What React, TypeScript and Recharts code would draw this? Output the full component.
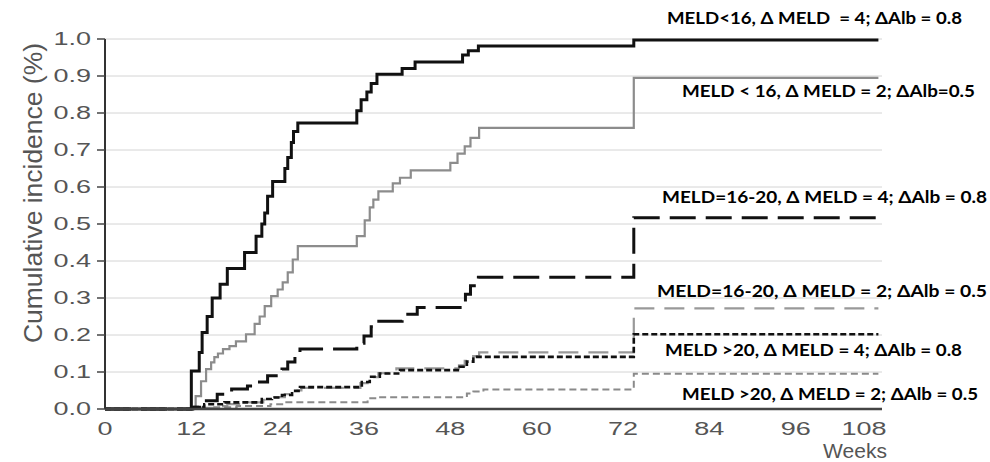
import { CartesianGrid, Line, LineChart, XAxis, YAxis } from "recharts";

type Pt = [number, number];

const weekTicks = [0, 12, 24, 36, 48, 60, 72, 84, 96, 108];
const incidenceTicks = [0, 0.1, 0.2, 0.3, 0.4, 0.5, 0.6, 0.7, 0.8, 0.9, 1.0];

// MELD<16, dMELD=4, dAlb=0.8 (black solid)
const meldLowD4: Pt[] = [
  [0, 0], [12, 0.103], [13.1, 0.153], [13.5, 0.207], [14.2, 0.25], [14.9, 0.3],
  [16, 0.337], [17, 0.38], [19.4, 0.423], [21, 0.467], [21.8, 0.5], [22.2, 0.53],
  [22.6, 0.575], [23.3, 0.615], [25, 0.65], [25.4, 0.68], [25.9, 0.72], [26.2, 0.75],
  [26.8, 0.773], [35, 0.806], [35.6, 0.836], [36.4, 0.857], [37, 0.88], [37.8, 0.905],
  [41.3, 0.92], [43.1, 0.938], [49.7, 0.957], [50.5, 0.968], [51.9, 0.981],
  [73.5, 0.997], [107.5, 0.997],
];

// MELD<16, dMELD=2, dAlb=0.5 (gray solid)
const meldLowD2: Pt[] = [
  [0, 0], [12.6, 0.035], [13.35, 0.075], [14.05, 0.108], [14.75, 0.126], [15.2, 0.14],
  [15.7, 0.15], [16.4, 0.162], [17.3, 0.17], [18.2, 0.183], [19.6, 0.202], [20.8, 0.23],
  [21.5, 0.25], [22.2, 0.278], [23.1, 0.305], [24, 0.323], [24.7, 0.342], [25.4, 0.369],
  [26.1, 0.404], [26.8, 0.44], [35, 0.467], [36.1, 0.51], [36.8, 0.545], [37.3, 0.566],
  [38, 0.588], [40, 0.61], [41, 0.625], [42.5, 0.645], [48, 0.665], [49, 0.69],
  [50, 0.71], [50.8, 0.733], [52, 0.76], [73.5, 0.895], [107.5, 0.895],
];

// MELD=16-20, dMELD=4, dAlb=0.8 (black long dash)
const meldMidD4: Pt[] = [
  [0, 0], [12.2, 0.005], [13.8, 0.022], [15.6, 0.04], [17.6, 0.054], [19.8, 0.062],
  [21.2, 0.073], [22.6, 0.09], [24.6, 0.108], [25.4, 0.127], [26.4, 0.148], [27.1, 0.162],
  [35, 0.178], [36, 0.197], [37, 0.222], [37.8, 0.237], [41.3, 0.256], [43.4, 0.274],
  [50.1, 0.31], [50.8, 0.333], [51.9, 0.356], [73.5, 0.517], [107.5, 0.517],
];

// MELD=16-20, dMELD=2, dAlb=0.5 (gray long dash)
const meldMidD2: Pt[] = [
  [0, 0], [12.5, 0.003], [15, 0.008], [17, 0.013], [20, 0.018], [22, 0.025],
  [23.5, 0.032], [25, 0.04], [26.2, 0.05], [27.3, 0.057], [35.5, 0.07], [36.5, 0.086],
  [38, 0.097], [40.5, 0.11], [49.2, 0.118], [50, 0.13], [51, 0.143], [52, 0.153],
  [73.5, 0.272], [107.5, 0.272],
];

// MELD>20, dMELD=4, dAlb=0.8 (black short dash)
const meldHighD4: Pt[] = [
  [0, 0], [12.2, 0.005], [13.8, 0.013], [16.6, 0.018], [21.8, 0.027], [23.2, 0.031],
  [24.6, 0.038], [26, 0.049], [27.1, 0.059], [35.7, 0.073], [36.8, 0.087], [38.2, 0.096],
  [41, 0.105], [49.3, 0.114], [50.3, 0.128], [51.2, 0.141], [73.5, 0.202], [107.5, 0.202],
];

// MELD>20, dMELD=2, dAlb=0.5 (gray short dash)
const meldHighD2: Pt[] = [
  [0, 0], [13, 0.002], [15, 0.005], [18.3, 0.008], [23, 0.013], [25, 0.018],
  [36.5, 0.029], [38, 0.032], [50.3, 0.042], [51.2, 0.047], [52.6, 0.053],
  [73.5, 0.095], [107.5, 0.095],
];

const labels = [
  "MELD<16, \u0394 MELD  = 4; \u0394Alb = 0.8",
  "MELD < 16, \u0394 MELD = 2; \u0394Alb=0.5",
  "MELD=16-20, \u0394 MELD = 4; \u0394Alb = 0.8",
  "MELD=16-20, \u0394 MELD = 2; \u0394Alb = 0.5",
  "MELD >20, \u0394 MELD = 4; \u0394Alb = 0.8",
  "MELD >20, \u0394 MELD = 2; \u0394Alb = 0.5",
];

const toRows = (pts: Pt[]) => pts.map(([week, value]) => ({ week, value }));

// gray ones first so the black lines sit on top
const series = [
  { key: "b", data: meldLowD2, stroke: "#8c8c8c", width: 2.2, dash: undefined },
  { key: "d", data: meldMidD2, stroke: "#999999", width: 2.2, dash: "20 10" },
  { key: "f", data: meldHighD2, stroke: "#8a8a8a", width: 2, dash: "7 4" },
  { key: "a", data: meldLowD4, stroke: "#111111", width: 3, dash: undefined },
  { key: "c", data: meldMidD4, stroke: "#111111", width: 3, dash: "26 10" },
  { key: "e", data: meldHighD4, stroke: "#111111", width: 2.6, dash: "6 3" },
];

// where each label sits (left x, baseline y, width)
const labelPos = [
  [667, 24, 295],
  [682, 97, 293],
  [662, 203, 325],
  [657, 297, 330],
  [665, 356, 297],
  [682, 400, 296],
];

const axisFont = "'Liberation Sans', Arial, sans-serif";

const XTick = (props: any) => {
  const { x, y, payload } = props;
  const shift = payload.value === 108 ? -18 : 0;
  return (
    <g transform={`translate(${x + shift},${y})`}>
      <text transform="scale(1.5,1)" textAnchor="middle" dy="0.71em" fontSize={18} fill="#555" fontFamily={axisFont}>
        {payload.value}
      </text>
    </g>
  );
};

const YTick = (props: any) => {
  const { x, y, payload } = props;
  return (
    <g transform={`translate(${x},${y})`}>
      <text transform="scale(1.5,1)" textAnchor="end" dy="0.36em" fontSize={18} fill="#555" fontFamily={axisFont}>
        {Number(payload.value).toFixed(1)}
      </text>
    </g>
  );
};

export default function App() {
  return (
    <div style={{ position: "absolute", left: 0, top: 0, width: 990, height: 462, background: "#fff" }}>
      <LineChart width={990} height={462} margin={{ top: 39, right: 108, bottom: 0, left: 0 }}>
        <CartesianGrid vertical={false} stroke="#d4d4d4" />
        <XAxis
          type="number"
          dataKey="week"
          domain={[0, 108]}
          ticks={weekTicks}
          tickLine={false}
          tickSize={0}
          tickMargin={13}
          height={53}
          axisLine={{ stroke: "#444", strokeWidth: 2.5 }}
          tick={<XTick />}
          allowDataOverflow
        />
        <YAxis
          type="number"
          domain={[0, 1]}
          ticks={incidenceTicks}
          width={105}
          tickSize={8}
          tickMargin={6}
          tickLine={{ stroke: "#444", strokeWidth: 1.5 }}
          axisLine={{ stroke: "#333", strokeWidth: 2 }}
          tick={<YTick />}
        />
        {series.map((s) => (
          <Line
            key={s.key}
            data={toRows(s.data)}
            dataKey="value"
            type="stepAfter"
            stroke={s.stroke}
            strokeWidth={s.width}
            strokeDasharray={s.dash}
            dot={false}
            activeDot={false}
            isAnimationActive={false}
          />
        ))}
      </LineChart>
      <svg width={990} height={462} style={{ position: "absolute", left: 0, top: 0, pointerEvents: "none" }}>
        <text
          transform="translate(42,193) rotate(-90)"
          textAnchor="middle"
          fontSize={26}
          fill="#555"
          fontFamily={axisFont}
          textLength={300}
          lengthAdjust="spacingAndGlyphs"
        >
          Cumulative incidence (%)
        </text>
        <text x={855} y={458} textAnchor="middle" fontSize={21} fill="#555" fontFamily={axisFont}>
          Weeks
        </text>
        {labels.map((t, i) => (
          <text
            key={t}
            x={labelPos[i][0]}
            y={labelPos[i][1]}
            textLength={labelPos[i][2]}
            lengthAdjust="spacingAndGlyphs"
            fontSize={17}
            fontWeight={700}
            fill="#000"
            fontFamily="Lato, 'Open Sans', sans-serif"
            style={{ whiteSpace: "pre" }}
          >
            {t}
          </text>
        ))}
      </svg>
    </div>
  );
}
